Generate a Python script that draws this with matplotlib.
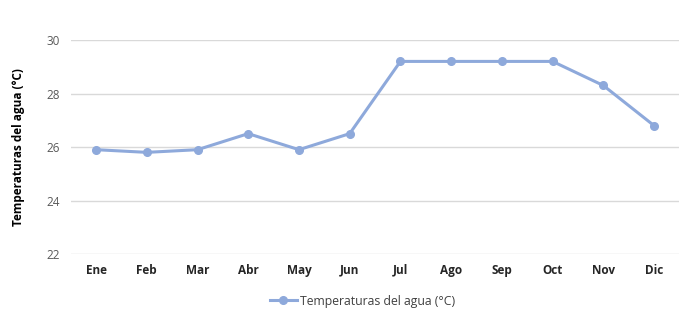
import matplotlib.pyplot as plt

# monthly water temperature
months = ['Ene', 'Feb', 'Mar', 'Abr', 'May', 'Jun', 'Jul', 'Ago', 'Sep', 'Oct', 'Nov', 'Dic']
temps = [25.9, 25.8, 25.9, 26.5, 25.9, 26.5, 29.2, 29.2, 29.2, 29.2, 28.3, 26.8]
yticks = [22, 24, 26, 28, 30]

plt.rcParams['font.family'] = ['Open Sans', 'DejaVu Sans']

fig = plt.figure(figsize=(7, 3.28), dpi=100)
ax = fig.add_axes([0.101, 0.2256, 0.8696, 0.6524])

line_color = '#8EA9DB'
x = range(len(months))
ax.plot(x, temps, color=line_color, linewidth=2.2, marker='o', markersize=5.5,
        label='Temperaturas del agua (°C)')

ax.set_xlim(-0.5, len(months) - 0.5)
ax.set_ylim(22, 30)
ax.set_yticks(yticks)
ax.set_xticks(list(x))
ax.set_xticklabels(months, fontsize=8.5, fontweight='bold', color='#262626')
ax.tick_params(axis='y', labelsize=8.5, labelcolor='#595959', length=0, pad=8)
ax.tick_params(axis='x', length=0, pad=7)
ax.grid(axis='y', color='#D9D9D9', linewidth=1)
ax.set_axisbelow(True)
for s in ax.spines.values():
    s.set_visible(False)

ax.set_ylabel('Temperaturas del agua (°C)', fontsize=8.5, fontweight='bold',
              color='#000000', labelpad=15)

fig.legend(loc='center', bbox_to_anchor=(0.518, 0.082), frameon=False, fontsize=8.8,
           handlelength=2.2, handletextpad=0.3, labelcolor='#404040')

fig.savefig('out.png', dpi=100, facecolor='white')
